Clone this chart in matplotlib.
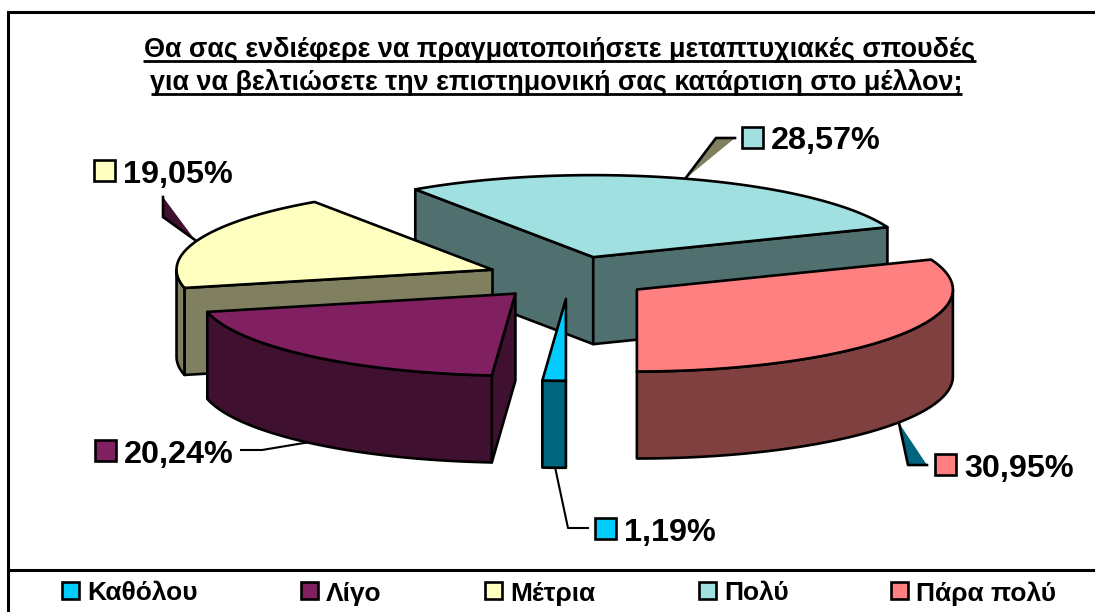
import numpy as np
import matplotlib
matplotlib.use("Agg")
import matplotlib.pyplot as plt
from matplotlib.patches import Polygon, Rectangle

categories = ["Καθόλου", "Λίγο", "Μέτρια", "Πολύ", "Πάρα πολύ"]
values = [1.19, 20.24, 19.05, 28.57, 30.95]
top_colors = ["#00CCFF", "#802060", "#FFFFC0", "#A0E0E0", "#FF8080"]
side_colors = ["#006680", "#401030", "#808060", "#507070", "#804040"]
title_lines = ["Θα σας ενδιέφερε να πραγματοποιήσετε μεταπτυχιακές σπουδές",
               "για να βελτιώσετε την επιστημονική σας κατάρτιση στο μέλλον;"]

FONT = "Liberation Sans"
CX, CY, RX, RY, DEPTH, EXPLODE = 569.0, 277.5, 316.0, 82.0, 87.0, 0.26
LW = 1.9

fig = plt.figure(figsize=(10.95, 6.12), dpi=100, facecolor="white")
ax = fig.add_axes([0, 0, 1, 1])
ax.set_xlim(0, 1095)
ax.set_ylim(612, 0)
ax.axis("off")

def rim(t):
    t = np.radians(t)
    return -RX * np.sin(t), RY * np.cos(t)

def poly(pts, fc, z, lw=LW):
    ax.add_patch(Polygon(pts, closed=True, fc=fc, ec="black", lw=lw, joinstyle="round", zorder=z))

# frame
ax.plot([1095, 8, 8], [12, 12, 612], color="black", lw=2.2, zorder=1, solid_joinstyle="miter")
ax.plot([8, 1095], [570, 570], color="black", lw=2.2, zorder=1)

# title
for line, y, x0, x1 in zip(title_lines, [57, 90], [143, 151], [976, 962]):
    ax.text((x0 + x1) / 2, y, line, family=FONT, weight="bold", fontsize=19.4,
            ha="center", va="baseline", color="black", zorder=5)
    ax.plot([x0, x1], [y + 4, y + 4], color="black", lw=2.0, zorder=5, solid_capstyle="butt")

# leader lines (fill + outline)
for fill, pts, col in [
    ([(685, 179), (716, 138), (735, 138)], [(685, 179), (716, 138), (735, 138)], "#808060"),
    ([(899, 423), (908, 465), (927, 465)], [(899, 423), (908, 465), (927, 465)], "#006680"),
    ([(163, 197), (163, 217), (195, 240)], [(195, 240), (163, 217), (163, 197)], "#401030"),
]:
    ax.add_patch(Polygon(fill, closed=True, fc=col, ec="none", zorder=2))
    ax.plot(*zip(*pts), color="black", lw=LW, zorder=2)
ax.plot([555, 568, 588], [467, 528, 528], color="black", lw=1.5, zorder=2)
ax.plot([241, 262, 310], [450, 450, 442], color="black", lw=1.5, zorder=2)

# pie
total = sum(values)
edges = np.concatenate([[0], np.cumsum(values)]) / total * 360
draw_order = [3, 2, 1, 0, 4]
for rank, i in enumerate(draw_order):
    t0, t1 = edges[i], edges[i + 1]
    tm = (t0 + t1) / 2
    ex, ey = rim(tm)
    ax0, ay0 = CX + EXPLODE * ex, CY + EXPLODE * ey
    z = 10 + rank
    ts = np.linspace(t0, t1, 120)
    xs, ys = rim(ts)
    px, py = 0.5 * ex, 0.5 * ey
    # radial cut faces
    for t in (t0, t1):
        dx, dy = rim(t)
        if abs(dx) < 1e-6:
            continue
        if py < dy / dx * px:
            poly([(ax0, ay0), (ax0 + dx, ay0 + dy), (ax0 + dx, ay0 + dy + DEPTH), (ax0, ay0 + DEPTH)],
                 side_colors[i], z)
    # outer wall (front part only)
    front = ts[np.cos(np.radians(ts)) >= 0]
    if len(front) > 1:
        fx, fy = rim(front)
        upper = np.column_stack([ax0 + fx, ay0 + fy])
        lower = np.column_stack([ax0 + fx, ay0 + fy + DEPTH])[::-1]
        poly(np.vstack([upper, lower]), side_colors[i], z)
    # top
    poly(np.vstack([[ax0, ay0], np.column_stack([ax0 + xs, ay0 + ys])]), top_colors[i], z + 0.5)

# data labels
key_pos = [(595, 518), (95, 440), (94, 160), (742, 127), (935, 454)]
for v, col, (kx, ky) in zip(values, top_colors, key_pos):
    ax.add_patch(Rectangle((kx, ky), 21, 21, fc=col, ec="black", lw=LW, zorder=30))
    ax.text(kx + 29, ky + 11, f"{v:.2f}".replace(".", ",") + "%", family=FONT, weight="bold",
            fontsize=23.3, ha="left", va="center_baseline", color="black", zorder=30)

# legend
leg_x = [62, 301, 485, 699, 891]
for name, col, x in zip(categories, top_colors, leg_x):
    ax.add_patch(Rectangle((x, 582), 17, 17, fc=col, ec="black", lw=LW, zorder=30))
    ax.text(x + 25, 591, name, family=FONT, weight="bold", fontsize=19,
            ha="left", va="center_baseline", color="black", zorder=30)

fig.savefig("out.png", dpi=100)
